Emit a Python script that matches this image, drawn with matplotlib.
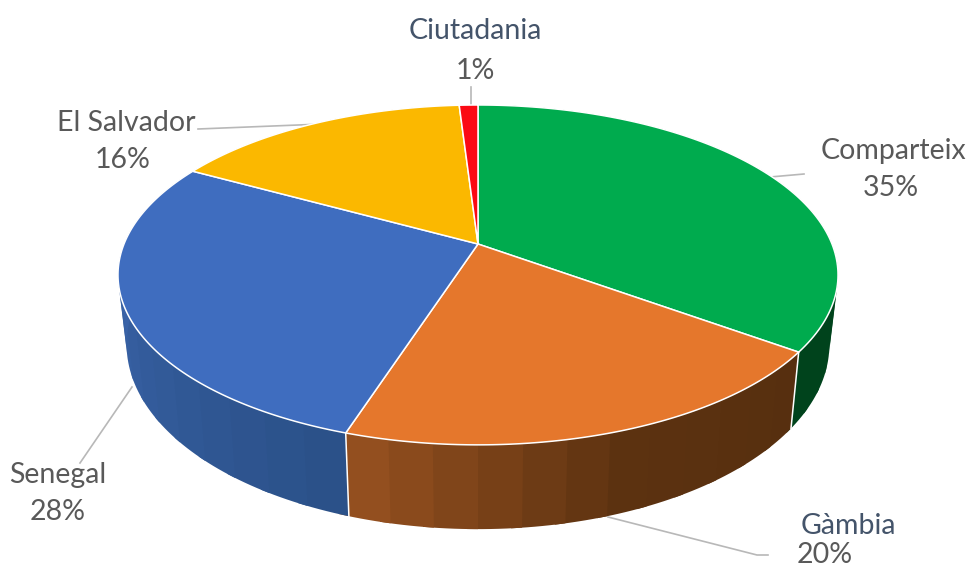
#!/usr/bin/env python3
# 3D-look pie of origin shares, drawn by hand because matplotlib has no extruded pie.
import numpy as np
import matplotlib
matplotlib.use("Agg")
import matplotlib.pyplot as plt

categories = ["Comparteix", "Gàmbia", "Senegal", "El Salvador", "Ciutadania"]
shares = [35, 20, 28, 16, 1]

top_colors = ["#00AB4E", "#E5772C", "#3F6DBF", "#FBB800", "#FB0A14"]
# wall colour stops along each slice: (angle in deg, rgb)
wall_stops = [
    [(0, (0, 67, 28)), (126, (0, 67, 28))],
    [(126, (86, 47, 15)), (160, (92, 50, 16)), (198, (152, 82, 32))],
    [(198, (42, 80, 135)), (270, (58, 100, 170)), (299, (58, 100, 170))],
    [(299, (150, 110, 0)), (356, (150, 110, 0))],
    [(356, (150, 10, 10)), (360, (150, 10, 10))],
]
name_colors = ["#595959", "#44546A", "#595959", "#595959", "#44546A"]

# label centres in pixels: name then value
name_xy = [(894, 150.5), (848, 525.5), (58, 474.5), (126, 122.5), (475, 30.5)]
pct_xy = [(891, 187.5), (825, 555), (58, 512.5), (123, 159.5), (475, 70.5)]
leaders = [
    [(770, 177), (804, 174)],
    [(608, 517), (757, 555), (768, 555)],
    [(132, 387), (80, 463)],
    [(198, 129), (323, 124)],
    [(471, 87), (471, 105)],
]

# perspective of the top disc
CX, CY, A, B, K = 478, 244, 354, 164.3, 0.182


def top_ring(theta):
    # theta in degrees, clockwise from the far side of the disc
    t = np.radians(theta)
    X, Y = np.sin(t), -np.cos(t)
    s = 1 / (1 - K * Y)
    return CX + A * X * s, CY + B * Y * s


def base_ring(theta):
    x, y = top_ring(theta)
    return CX + 0.976 * (x - CX), 311 + 1.086 * (y - CY)


fig = plt.figure(figsize=(9.71, 5.69), dpi=100)
ax = fig.add_axes([0, 0, 1, 1])
ax.set_xlim(0, 971); ax.set_ylim(569, 0); ax.axis("off")

edges = np.concatenate([[0], np.cumsum(shares) * 3.6])

# walls first, in bands that each run a little under the next one so no seam shows
for i in range(len(shares)):
    n = max(2, int((edges[i + 1] - edges[i]) / 6))
    th = np.linspace(edges[i], edges[i + 1], n + 1)
    stops = wall_stops[i]
    for a, b in zip(th[:-1], th[1:]):
        mid = (a + b) / 2
        col = [np.interp(mid, [s[0] for s in stops], [s[1][c] for s in stops]) / 255 for c in range(3)]
        tt = np.linspace(a, min(b + 1.5, 360), 8)
        xt, yt = top_ring(tt)
        xb, yb = base_ring(tt)
        ax.fill(np.r_[xt, xb[::-1]], np.r_[yt, yb[::-1]], color=col, lw=0, zorder=2)

# slice borders on the visible wall
for e in edges[1:3]:
    xt, yt = top_ring(e)
    xb, yb = base_ring(e)
    ax.plot([xt, xb], [yt, yb], color="white", lw=1.1, zorder=3)

# top face
for i, c in enumerate(top_colors):
    tt = np.linspace(edges[i], edges[i + 1], 120)
    x, y = top_ring(tt)
    ax.fill(np.r_[CX, x], np.r_[CY, y], facecolor=c, edgecolor="white", lw=1.1,
            joinstyle="round", zorder=4)

for pts in leaders:
    ax.plot(*zip(*pts), color="#B8B8B8", lw=1.2, zorder=1)

for name, share, nc, nxy, pxy in zip(categories, shares, name_colors, name_xy, pct_xy):
    ax.text(*nxy, name, color=nc, family="Lato", fontsize=20.5, ha="center", va="center")
    ax.text(*pxy, f"{share}%", color="#595959", family="Lato", fontsize=20.5, ha="center", va="center")

fig.savefig("out.png", dpi=100)
